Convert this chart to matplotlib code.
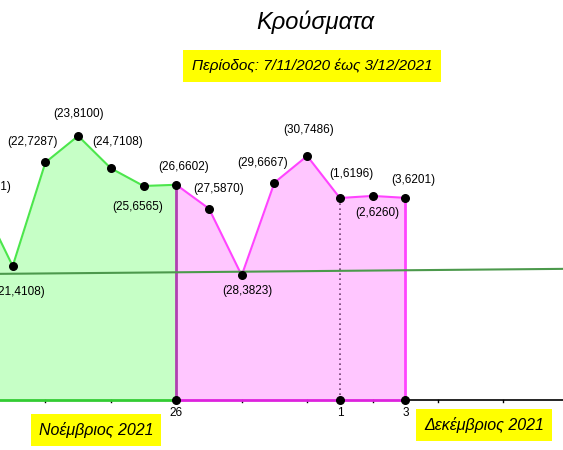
import matplotlib
matplotlib.use("Agg")
import matplotlib.pyplot as plt
import numpy as np

plt.rcParams['font.family'] = ['Liberation Sans', 'DejaVu Sans']

# data: day of month and cases, 20/11 .. 3/12
day_labels = [20, 21, 22, 23, 24, 25, 26, 27, 28, 29, 30, 1, 2, 3]
cases = [6171, 4108, 7287, 8100, 7108, 6565, 6602, 5870, 3823, 6667, 7486, 6196, 6260, 6201]
# label offsets in pixels (dx, dy)
label_offsets = [(6, 12), (7, -26), (-13, 20), (0, 22), (7, 26), (-6, -21), (7, 18),
                 (10, 20), (6, -16), (-12, 20), (1, 26), (12, 24), (5, -17), (8, 18)]
nov_end = 6          # index of 26/11, split between the two areas
tick_pos = [26, 31, 33]
tick_text = ['26', '1', '3']
trend_x = [20, 38]
trend_y = [3864, 4024]

x = np.arange(20, 20 + len(cases))
y = np.array(cases)

fig = plt.figure(figsize=(5.63, 4.5), dpi=100)
ax = fig.add_axes([0, 0, 1, 1])
ax.set_xlim(20.612, 37.82)
ax.set_ylim(-1534, 12270)
ax.axis('off')

# green area (November)
xg = x[:nov_end + 1]
yg = y[:nov_end + 1]
ax.fill_between(xg, 0, yg, color='#c6ffc6', lw=0, zorder=1)
ax.plot(xg, yg, color='#4ce64c', lw=1.5, zorder=3)
ax.plot([xg[0], xg[-1]], [0, 0], color='#33cc33', lw=2, zorder=3)

# pink area (end of November - December)
xp = x[nov_end:]
yp = y[nov_end:]
ax.fill_between(xp, 0, yp, color='#ffc6ff', lw=0, zorder=1)
ax.plot(xp, yp, color='#ff44ff', lw=1.5, zorder=3)
ax.plot([xp[0], xp[-1]], [0, 0], color='#dd22dd', lw=2, zorder=3)
ax.plot([xp[-1], xp[-1]], [0, yp[-1]], color='#ff44ff', lw=2, zorder=3)
ax.plot([xp[0], xp[0]], [0, yp[0]], color='#b040b0', lw=2, zorder=3)

# axis to the right
ax.plot([xp[-1], 38], [0, 0], color='black', lw=1.2, zorder=2)
for t in range(22, 38, 2):
    ax.plot([t, t], [-60, 0], color='black', lw=1, zorder=2)

# dotted line at 1/12
i1 = day_labels.index(1)
ax.plot([x[i1], x[i1]], [0, y[i1]], color='#704070', lw=1.2, ls=(0, (1, 2)), zorder=3)

# trend line
ax.plot(trend_x, trend_y, color='#4c994c', lw=1.5, zorder=4)

# points and labels
ax.scatter(x, y, s=30, color='black', zorder=5)
ax.scatter(tick_pos, [0] * len(tick_pos), s=30, color='black', zorder=5, clip_on=False)
for xi, yi, d, off in zip(x, y, day_labels, label_offsets):
    ax.annotate(f'({d},{yi})', (xi, yi), xytext=off, textcoords='offset pixels',
                ha='center', va='center', fontsize=8.5, zorder=6, annotation_clip=False)

for tp, tt in zip(tick_pos, tick_text):
    ax.annotate(tt, (tp, 0), xytext=(0, -13), textcoords='offset pixels',
                ha='center', va='center', fontsize=8.5)

# titles
fig.text(315 / 563, 1 - 22 / 450, 'Κρούσματα', ha='center', va='center',
         fontsize=17, style='italic')
fig.text(312 / 563, 1 - 66 / 450, 'Περίοδος: 7/11/2020 έως 3/12/2021', ha='center',
         va='center', fontsize=11, style='italic',
         bbox=dict(boxstyle='square,pad=0.55', fc='#ffff00', ec='none'))
fig.text(96 / 563, 1 - 430 / 450, 'Νοέμβριος 2021', ha='center', va='center',
         fontsize=11.5, style='italic',
         bbox=dict(boxstyle='square,pad=0.5', fc='#ffff00', ec='none'))
fig.text(484 / 563, 1 - 425 / 450, 'Δεκέμβριος 2021', ha='center', va='center',
         fontsize=11.5, style='italic',
         bbox=dict(boxstyle='square,pad=0.5', fc='#ffff00', ec='none'))

fig.savefig('out.png', dpi=100)
